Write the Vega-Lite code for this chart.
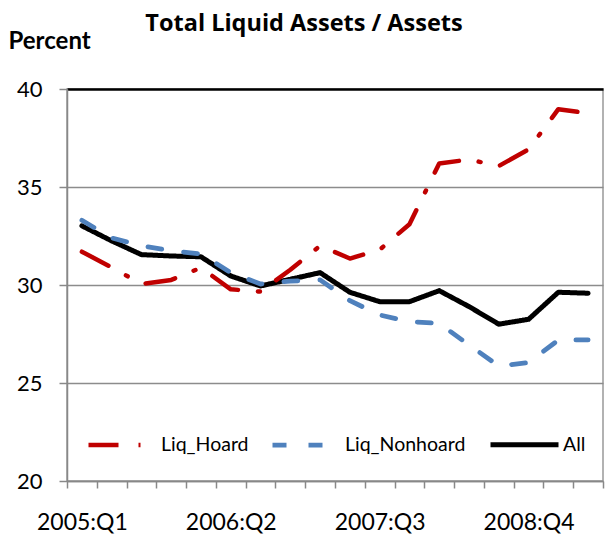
{
  "$schema": "https://vega.github.io/schema/vega-lite/v6.json",
  "width": 536,
  "height": 392,
  "autosize": {"type": "none"},
  "padding": {"left": 67, "top": 89, "right": 2, "bottom": 63},
  "background": "white",
  "config": {"font": "Lato", "view": {"stroke": "#999", "strokeWidth": 1.5}},
  "title": {"text": "Total Liquid Assets / Assets", "font": "Open Sans", "fontSize": 23.5, "fontWeight": "bold", "color": "black", "anchor": "middle", "dx": -31, "baseline": "alphabetic", "offset": -25},
  "data": {"values": [
    {"q": "2005:Q1", "series": "All", "v": 33.02},
    {"q": "2005:Q2", "series": "All", "v": 32.25},
    {"q": "2005:Q3", "series": "All", "v": 31.55},
    {"q": "2005:Q4", "series": "All", "v": 31.48},
    {"q": "2006:Q1", "series": "All", "v": 31.44},
    {"q": "2006:Q2", "series": "All", "v": 30.46},
    {"q": "2006:Q3", "series": "All", "v": 29.95},
    {"q": "2006:Q4", "series": "All", "v": 30.29},
    {"q": "2007:Q1", "series": "All", "v": 30.63},
    {"q": "2007:Q2", "series": "All", "v": 29.63},
    {"q": "2007:Q3", "series": "All", "v": 29.15},
    {"q": "2007:Q4", "series": "All", "v": 29.15},
    {"q": "2008:Q1", "series": "All", "v": 29.71},
    {"q": "2008:Q2", "series": "All", "v": 28.9},
    {"q": "2008:Q3", "series": "All", "v": 28.0},
    {"q": "2008:Q4", "series": "All", "v": 28.25},
    {"q": "2009:Q1", "series": "All", "v": 29.63},
    {"q": "2009:Q2", "series": "All", "v": 29.58},
    {"q": "2005:Q1", "series": "Liq_Nonhoard", "v": 33.3},
    {"q": "2005:Q2", "series": "Liq_Nonhoard", "v": 32.4},
    {"q": "2005:Q3", "series": "Liq_Nonhoard", "v": 32.0},
    {"q": "2005:Q4", "series": "Liq_Nonhoard", "v": 31.75},
    {"q": "2006:Q1", "series": "Liq_Nonhoard", "v": 31.58},
    {"q": "2006:Q2", "series": "Liq_Nonhoard", "v": 30.63},
    {"q": "2006:Q3", "series": "Liq_Nonhoard", "v": 30.05},
    {"q": "2006:Q4", "series": "Liq_Nonhoard", "v": 30.2},
    {"q": "2007:Q1", "series": "Liq_Nonhoard", "v": 30.26},
    {"q": "2007:Q2", "series": "Liq_Nonhoard", "v": 29.2},
    {"q": "2007:Q3", "series": "Liq_Nonhoard", "v": 28.47},
    {"q": "2007:Q4", "series": "Liq_Nonhoard", "v": 28.13},
    {"q": "2008:Q1", "series": "Liq_Nonhoard", "v": 28.04},
    {"q": "2008:Q2", "series": "Liq_Nonhoard", "v": 26.94},
    {"q": "2008:Q3", "series": "Liq_Nonhoard", "v": 25.87},
    {"q": "2008:Q4", "series": "Liq_Nonhoard", "v": 26.04},
    {"q": "2009:Q1", "series": "Liq_Nonhoard", "v": 27.19},
    {"q": "2009:Q2", "series": "Liq_Nonhoard", "v": 27.2},
    {"q": "2005:Q1", "series": "Liq_Hoard", "v": 31.7},
    {"q": "2005:Q2", "series": "Liq_Hoard", "v": 30.9},
    {"q": "2005:Q3", "series": "Liq_Hoard", "v": 30.05},
    {"q": "2005:Q4", "series": "Liq_Hoard", "v": 30.26},
    {"q": "2006:Q1", "series": "Liq_Hoard", "v": 30.88},
    {"q": "2006:Q2", "series": "Liq_Hoard", "v": 29.78},
    {"q": "2006:Q3", "series": "Liq_Hoard", "v": 29.66},
    {"q": "2006:Q4", "series": "Liq_Hoard", "v": 30.78},
    {"q": "2007:Q1", "series": "Liq_Hoard", "v": 32.0},
    {"q": "2007:Q2", "series": "Liq_Hoard", "v": 31.35},
    {"q": "2007:Q3", "series": "Liq_Hoard", "v": 31.8},
    {"q": "2007:Q4", "series": "Liq_Hoard", "v": 33.1},
    {"q": "2008:Q1", "series": "Liq_Hoard", "v": 36.2},
    {"q": "2008:Q2", "series": "Liq_Hoard", "v": 36.4},
    {"q": "2008:Q3", "series": "Liq_Hoard", "v": 36.07},
    {"q": "2008:Q4", "series": "Liq_Hoard", "v": 36.92},
    {"q": "2009:Q1", "series": "Liq_Hoard", "v": 38.97},
    {"q": "2009:Q2", "series": "Liq_Hoard", "v": 38.76}
  ]},
  "mark": {"type": "line", "strokeCap": "round", "strokeJoin": "round"},
  "encoding": {
    "x": {"field": "q", "type": "ordinal", "sort": null, "bandPosition": 0.5,
      "scale": {"type": "band", "paddingInner": 0, "paddingOuter": 0},
      "axis": {"title": null, "labelAngle": 0, "labelFontSize": 23, "labelColor": "black", "labelFont": "Lato", "labelBaseline": "alphabetic",
        "labelExpr": "indexof(['2005:Q1','2006:Q2','2007:Q3','2008:Q4'], datum.value) >= 0 ? datum.value : ''",
        "tickBand": "extent", "tickSize": 7, "tickColor": "#888", "tickWidth": 1.5, "domainColor": "#888", "domainWidth": 1.5, "labelPadding": 41, "grid": false}},
    "y": {"field": "v", "type": "quantitative", "scale": {"domain": [20, 40], "nice": false, "zero": false},
      "axis": {"values": [20, 25, 30, 35, 40], "title": "Percent", "titleAngle": 0, "titleX": -59, "titleY": -41, "titleAlign": "left", "titleBaseline": "alphabetic", "titleFontSize": 24, "titleFontWeight": "bold", "titleColor": "black",
        "labelFontSize": 22, "labelColor": "black", "labelPadding": 17, "tickSize": 8, "tickColor": "#888", "tickWidth": 1.5, "domainColor": "#888", "domainWidth": 1.5,
        "gridColor": {"condition": {"test": "datum.value == 40", "value": "black"}, "value": "#8c8c8c"},
        "gridWidth": {"condition": {"test": "datum.value == 40", "value": 2.5}, "value": 1.5}}},
    "color": {"field": "series", "type": "nominal",
      "scale": {"domain": ["Liq_Hoard", "Liq_Nonhoard", "All"], "range": ["#C00000", "#4F81BD", "#000000"]},
      "legend": {"orient": "none", "legendX": 19, "legendY": 319, "direction": "horizontal", "title": null, "symbolType": "stroke", "symbolSize": 4624, "symbolStrokeWidth": 4, "labelFontSize": 19.5, "labelFont": "Lato", "labelColor": "black", "columnPadding": 14, "labelOffset": 2}},
    "strokeDash": {"field": "series", "type": "nominal",
      "scale": {"domain": ["Liq_Hoard", "Liq_Nonhoard", "All"], "range": [[30, 20, 2, 20], [14, 22], [1, 0]]}},
    "strokeWidth": {"field": "series", "type": "ordinal",
      "scale": {"domain": ["Liq_Hoard", "Liq_Nonhoard", "All"], "range": [4.5, 5, 3]}, "legend": null}
  }
}
